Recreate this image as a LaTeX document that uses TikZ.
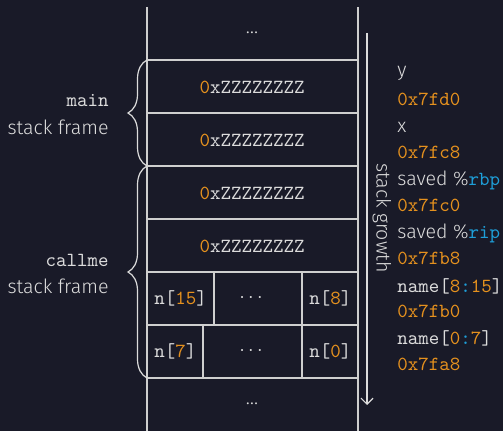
\documentclass[tikz,border=0pt]{standalone}
\usepackage{fontspec}
\setmainfont{Fira Sans}[UprightFont={* Light}]
\setsansfont{Fira Sans}[UprightFont={* Light}]
\setmonofont{Latin Modern Mono}
\usetikzlibrary{decorations.pathreplacing,arrows.meta}
\definecolor{bg}{HTML}{191A28}
\definecolor{fg}{HTML}{DCDCDC}
\definecolor{rule}{HTML}{CFCFCF}
\definecolor{num}{HTML}{E5911E}
\definecolor{reg}{HTML}{1E9ED8}
\newcommand{\hx}{{\color{num}0}x}
\newcommand{\code}{\fontsize{10}{12}\fontfamily{\ttdefault}\fontseries{m}\fontshape{n}\selectfont}
\begin{document}
\begin{tikzpicture}[x=0.5pt,y=-0.5pt,
  every node/.style={text=fg,font=\fontsize{9.8}{12}\selectfont,inner sep=0pt},
  rulepath/.style={draw=rule,line width=0.6pt},
  bracepath/.style={draw=fg,line width=0.6pt,decorate,decoration={brace,amplitude=9.5pt}},
  word/.style={font=\code},
  addr/.style={font=\code,text=num,anchor=west},
  side/.style={anchor=west},
  framelabel/.style={anchor=east}]
\fill[bg] (0,0) rectangle (503,431);
\useasboundingbox (0,0) rectangle (503,431);

% stack walls
\draw[rulepath] (147,7) -- (147,431);
\draw[rulepath] (358,7) -- (358,431);
% slot boundaries
\foreach \yy in {60,113,166,219,272,325,378}
  \draw[rulepath] (147,\yy) -- (358,\yy);
% byte cells of the name buffer
\draw[rulepath] (214,272) -- (214,325);
\draw[rulepath] (302,272) -- (302,378);
\draw[rulepath] (203,325) -- (203,378);

% slot contents
\node (dtop) at (252,33) {\ldots};
\node[word] (s1) at (252,87) {\hx ZZZZZZZZ};
\node[word] (s2) at (252,140) {\hx ZZZZZZZZ};
\node[word] (s3) at (252,193) {\hx ZZZZZZZZ};
\node[word] (s4) at (252,246) {\hx ZZZZZZZZ};
\node[word,anchor=west] (n15) at (154,298.5) {n[{\color{num}15}]};
\node (d5) at (251,298.5) {$\cdots$};
\node[word,anchor=west] (n8) at (309,298.5) {n[{\color{num}8}]};
\node[word,anchor=west] (n7) at (154,351.5) {n[{\color{num}7}]};
\node (d6) at (251,351.5) {$\cdots$};
\node[word,anchor=west] (n0) at (309,351.5) {n[{\color{num}0}]};
\node (dbot) at (252,404) {\ldots};

% frame braces and their labels
\draw[bracepath] (147,166) -- (147,60);
\draw[bracepath] (147,378) -- (147,166);
\node[framelabel,word] (mainname) at (109,101) {main};
\node[framelabel] (mainsf) at (109,127) {stack frame};
\node[framelabel,word] (callname) at (109,260) {callme};
\node[framelabel] (callsf) at (109,286) {stack frame};

% growth direction
\coordinate (gtop) at (367,33);
\coordinate (gbot) at (367,405);
\draw[draw=fg,line width=0.6pt,-{Straight Barb[length=3pt,width=6pt]}] (gtop) -- (gbot);
\node[rotate=-90] (growth) at (382,218) {stack growth};

% variable names and addresses
\node[side] (ly) at (397,73) {y};
\node[addr] (ay) at (397,99) {0x7fd0};
\node[side] (lx) at (397,127) {x};
\node[addr] (ax) at (397,152) {0x7fc8};
\node[side] (lrbp) at (397,180) {saved \%{\code\color{reg}rbp}};
\node[addr] (arbp) at (397,205) {0x7fc0};
\node[side] (lrip) at (397,233) {saved \%{\code\color{reg}rip}};
\node[addr] (arip) at (397,258) {0x7fb8};
\node[side,word] (lhi) at (397,286) {name[{\color{num}8}{\color{reg}:}{\color{num}15}]};
\node[addr] (ahi) at (397,311) {0x7fb0};
\node[side,word] (llo) at (397,338) {name[{\color{num}0}{\color{reg}:}{\color{num}7}]};
\node[addr] (alo) at (397,364) {0x7fa8};
\end{tikzpicture}
\end{document}
